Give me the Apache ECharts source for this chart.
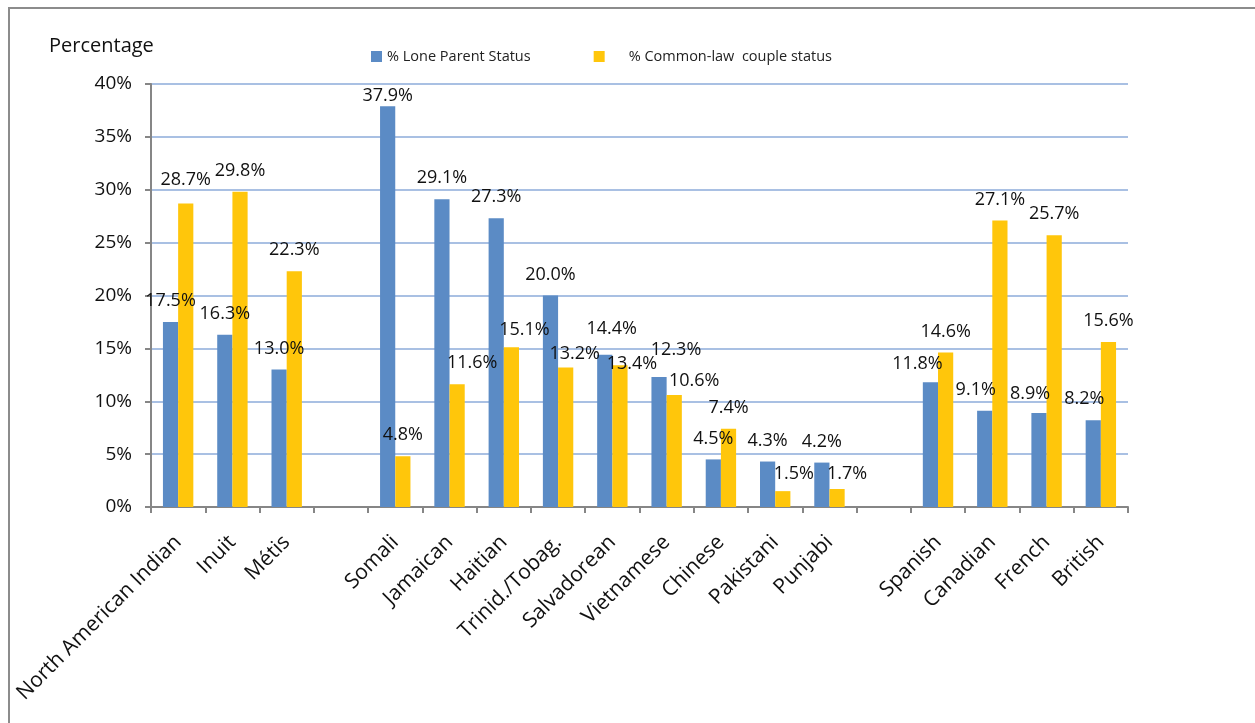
<!DOCTYPE html>
<html>
<head>
<meta charset="utf-8">
<script src="https://cdn.jsdelivr.net/npm/echarts@6/dist/echarts.min.js"></script>
<style>
  html, body { margin: 0; padding: 0; background: #fff; }
  #chart { width: 1255px; height: 723px; }
</style>
</head>
<body>
<div id="chart"></div>
<script>
// categories ('' = spacer slot between groups)
const categories = [
  'North American Indian', 'Inuit', 'Métis', '',
  'Somali', 'Jamaican', 'Haitian', 'Trinid./Tobag.', 'Salvadorean',
  'Vietnamese', 'Chinese', 'Pakistani', 'Punjabi', '',
  'Spanish', 'Canadian', 'French', 'British'
]
const loneParent = [17.5, 16.3, 13.0, '-', 37.9, 29.1, 27.3, 20.0, 14.4, 12.3, 4.5, 4.3, 4.2, '-', 11.8, 9.1, 8.9, 8.2]
const commonLaw = [28.7, 29.8, 22.3, '-', 4.8, 11.6, 15.1, 13.2, 13.4, 10.6, 7.4, 1.5, 1.7, '-', 14.6, 27.1, 25.7, 15.6]
const yTicks = [0, 5, 10, 15, 20, 25, 30, 35, 40]

// hand-moved data labels in the original (dx, dy in px, by category)
const loneNudge = {
  'Somali': [0, 11], 'Salvadorean': [7, -5], 'Vietnamese': [17, -6],
  'Spanish': [-13, 3], 'Canadian': [-9, 0], 'French': [-9, 2], 'British': [-9, 0]
}
const commonNudge = {
  'North American Indian': [0, -3], 'Jamaican': [15, 0], 'Haitian': [13, 4],
  'Trinid./Tobag.': [9, 7], 'Salvadorean': [12, 20], 'Vietnamese': [20, 7],
  'Pakistani': [11, 4], 'Punjabi': [10, 6]
}

const font = '"Open Sans", Lato, sans-serif'
const chart = echarts.init(document.getElementById('chart'))

const label = {
  show: true,
  position: 'top',
  distance: 12,
  color: '#111',
  fontSize: 18,
  fontFamily: font,
  formatter: p => p.value.toFixed(1) + '%'
}

const nudgeLayout = nudge => params => {
  const n = nudge[categories[params.dataIndex]]
  return n ? { dx: n[0], dy: n[1] } : {}
}

chart.setOption({
  animation: false,
  backgroundColor: '#fff',
  textStyle: { fontFamily: font },
  graphic: [
    {
      type: 'rect',
      shape: { x: 9, y: 8, width: 1300, height: 800 },
      style: { fill: 'none', stroke: '#8c8c8c', lineWidth: 2 }
    },
    {
      type: 'text',
      left: 49,
      top: 36,
      style: { text: 'Percentage', fontSize: 20, fontFamily: font, fill: '#111' }
    }
  ],
  legend: {
    left: 366,
    top: 44,
    itemWidth: 11,
    itemHeight: 11,
    itemGap: 63,
    icon: 'rect',
    textStyle: { fontSize: 14.5, color: '#222', fontFamily: font },
    data: [
      { name: '% Lone Parent Status' },
      { name: '% Common-law  couple status', textStyle: { padding: [0, 0, 0, 19] } }
    ]
  },
  grid: { left: 151, right: 127, top: 84, bottom: 216, containLabel: false },
  xAxis: {
    type: 'category',
    data: categories,
    axisLine: { lineStyle: { color: '#868686', width: 2 } },
    axisTick: { show: true, length: 6, lineStyle: { color: '#868686', width: 2 } },
    axisLabel: {
      rotate: 45,
      interval: 0,
      margin: 32,
      fontSize: 21,
      color: '#111',
      fontFamily: font
    }
  },
  yAxis: {
    type: 'value',
    min: 0,
    max: 40,
    interval: 5,
    axisLine: { show: true, lineStyle: { color: '#868686', width: 2 } },
    axisTick: { show: true, length: 6, lineStyle: { color: '#868686', width: 2 } },
    splitLine: { lineStyle: { color: '#a9c0e3', width: 2 } },
    axisLabel: {
      margin: 19,
      fontSize: 19,
      color: '#111',
      fontFamily: font,
      formatter: v => yTicks.includes(v) ? v + '%' : ''
    }
  },
  series: [
    {
      name: '% Lone Parent Status',
      type: 'bar',
      data: loneParent,
      barGap: '0%',
      barCategoryGap: '44%',
      itemStyle: { color: '#5b8bc5' },
      label: label,
      labelLayout: nudgeLayout(loneNudge)
    },
    {
      name: '% Common-law  couple status',
      type: 'bar',
      data: commonLaw,
      itemStyle: { color: '#ffc60b' },
      label: label,
      labelLayout: nudgeLayout(commonNudge)
    }
  ]
})

window.addEventListener('resize', () => {
  chart && chart.resize()
})
</script>
</body>
</html>
